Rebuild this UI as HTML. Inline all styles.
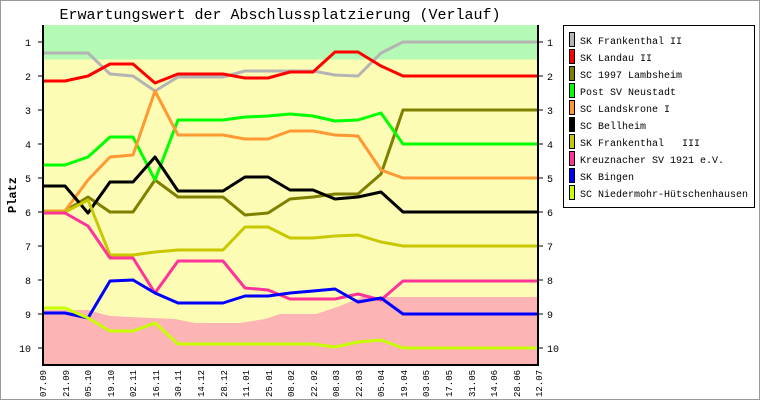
<!DOCTYPE html>
<html><head><meta charset="utf-8"><style>
body{margin:0;background:#fff;}
svg text{font-family:"Liberation Mono",monospace;}
</style></head><body>
<svg width="760" height="400" xmlns="http://www.w3.org/2000/svg">
<rect x="0.5" y="0.5" width="759" height="399" fill="#fff" stroke="#999"/>
<text x="280" y="19" font-size="15" text-anchor="middle">Erwartungswert der Abschlussplatzierung (Verlauf)</text>
<rect x="43" y="25" width="495" height="34.5" fill="#b4fab4"/>
<rect x="43" y="59.5" width="495" height="306" fill="#fcfcb4"/>
<polygon fill="#fcb4b4" points="43,310 88,310 110,316 130,317 175,319 195,323 240,323 265,319 280,314 316,314 340,306 362,297 538,297 538,365 43,365"/>
<g fill="none" stroke-width="3" stroke-linejoin="round">
<polyline stroke="#b4b4b4" points="43,53 88,53 110,74 133,76 155,91 178,77 223,77 245,71 313,71 335,75 358,76 381,53 403,42 538,42"/>
<polyline stroke="#ff0000" points="43,81 65,81 88,76 110,64 133,64 155,83 178,74 223,74 245,78 268,78 290,72 313,72 335,52 358,52 381,66 403,76 538,76"/>
<polyline stroke="#808000" points="43,211 65,211 88,197 110,212 133,212 155,180 178,197 223,197 245,215 268,213 290,199 313,197 335,194 358,194 381,174 403,110 538,110"/>
<polyline stroke="#00ff00" points="43,165 65,165 88,157 110,137 133,137 155,180 178,120 223,120 245,117 268,116 290,114 313,116 335,121 358,120 381,113 403,144 538,144"/>
<polyline stroke="#ff9933" points="43,211 65,211 88,180 110,157 133,155 155,91 178,135 223,135 245,139 268,139 290,131 313,131 335,135 358,136 381,170 403,178 538,178"/>
<polyline stroke="#000000" points="43,186 65,186 88,213 110,182 133,182 155,157 178,191 223,191 245,177 268,177 290,190 313,190 335,199 358,197 381,192 403,212 538,212"/>
<polyline stroke="#c8c800" points="43,212 65,212 88,200 110,255 133,255 155,252 178,250 223,250 245,227 268,227 290,238 313,238 335,236 358,235 381,242 403,246 538,246"/>
<polyline stroke="#ff3399" points="43,213 65,213 88,226 110,258 133,258 155,293 178,261 223,261 245,288 268,290 290,299 335,299 358,294 381,300 403,281 538,281"/>
<polyline stroke="#0000ff" points="43,313 65,313 88,318 110,281 133,280 155,293 178,303 223,303 245,296 268,296 290,293 313,291 335,289 358,302 381,298 403,314 538,314"/>
<polyline stroke="#c8ff00" points="43,308 65,308 88,318 110,331 133,331 155,323 178,344 290,344 313,344 335,347 358,342 381,340 403,348 538,348"/>
</g>
<g stroke="#000" stroke-width="2">
<line x1="43" y1="25" x2="43" y2="366"/><line x1="538" y1="25" x2="538" y2="366"/><line x1="42" y1="365" x2="539" y2="365"/>
</g>
<g stroke="#000" stroke-width="1">
<line x1="38" y1="42" x2="43" y2="42"/><line x1="38" y1="76" x2="43" y2="76"/><line x1="38" y1="110" x2="43" y2="110"/><line x1="38" y1="144" x2="43" y2="144"/><line x1="38" y1="178" x2="43" y2="178"/><line x1="38" y1="212" x2="43" y2="212"/><line x1="38" y1="246" x2="43" y2="246"/><line x1="38" y1="280" x2="43" y2="280"/><line x1="38" y1="314" x2="43" y2="314"/><line x1="38" y1="348" x2="43" y2="348"/>
<line x1="538" y1="42" x2="543" y2="42"/><line x1="538" y1="76" x2="543" y2="76"/><line x1="538" y1="110" x2="543" y2="110"/><line x1="538" y1="144" x2="543" y2="144"/><line x1="538" y1="178" x2="543" y2="178"/><line x1="538" y1="212" x2="543" y2="212"/><line x1="538" y1="246" x2="543" y2="246"/><line x1="538" y1="280" x2="543" y2="280"/><line x1="538" y1="314" x2="543" y2="314"/><line x1="538" y1="348" x2="543" y2="348"/>
</g>
<g font-size="10">
<text x="31" y="46" text-anchor="end">1</text><text x="31" y="80" text-anchor="end">2</text><text x="31" y="114" text-anchor="end">3</text><text x="31" y="148" text-anchor="end">4</text><text x="31" y="182" text-anchor="end">5</text><text x="31" y="216" text-anchor="end">6</text><text x="31" y="250" text-anchor="end">7</text><text x="31" y="284" text-anchor="end">8</text><text x="31" y="318" text-anchor="end">9</text><text x="31" y="352" text-anchor="end">10</text>
<text x="547" y="46">1</text><text x="547" y="80">2</text><text x="547" y="114">3</text><text x="547" y="148">4</text><text x="547" y="182">5</text><text x="547" y="216">6</text><text x="547" y="250">7</text><text x="547" y="284">8</text><text x="547" y="318">9</text><text x="547" y="352">10</text>
</g>
<text transform="translate(16,195) rotate(-90)" font-size="12" font-weight="bold" text-anchor="middle">Platz</text>
<g font-size="9">
<text transform="translate(46,397) rotate(-90)">07.09</text>
<text transform="translate(69,397) rotate(-90)">21.09</text>
<text transform="translate(91,397) rotate(-90)">05.10</text>
<text transform="translate(114,397) rotate(-90)">19.10</text>
<text transform="translate(136,397) rotate(-90)">02.11</text>
<text transform="translate(159,397) rotate(-90)">16.11</text>
<text transform="translate(181,397) rotate(-90)">30.11</text>
<text transform="translate(204,397) rotate(-90)">14.12</text>
<text transform="translate(227,397) rotate(-90)">28.12</text>
<text transform="translate(249,397) rotate(-90)">11.01</text>
<text transform="translate(272,397) rotate(-90)">25.01</text>
<text transform="translate(294,397) rotate(-90)">08.02</text>
<text transform="translate(317,397) rotate(-90)">22.02</text>
<text transform="translate(339,397) rotate(-90)">08.03</text>
<text transform="translate(362,397) rotate(-90)">22.03</text>
<text transform="translate(384,397) rotate(-90)">05.04</text>
<text transform="translate(407,397) rotate(-90)">19.04</text>
<text transform="translate(429,397) rotate(-90)">03.05</text>
<text transform="translate(452,397) rotate(-90)">17.05</text>
<text transform="translate(475,397) rotate(-90)">31.05</text>
<text transform="translate(497,397) rotate(-90)">14.06</text>
<text transform="translate(520,397) rotate(-90)">28.06</text>
<text transform="translate(542,397) rotate(-90)">12.07</text>
</g>
<rect x="563.5" y="25.5" width="191" height="182" fill="#fff" stroke="#000"/>
<g stroke="#000" stroke-width="1">
<rect x="569.5" y="32.5" width="5" height="14" fill="#b4b4b4"/>
<rect x="569.5" y="49.5" width="5" height="14" fill="#ff0000"/>
<rect x="569.5" y="66.5" width="5" height="14" fill="#808000"/>
<rect x="569.5" y="83.5" width="5" height="14" fill="#00ff00"/>
<rect x="569.5" y="100.5" width="5" height="14" fill="#ff9933"/>
<rect x="569.5" y="117.5" width="5" height="14" fill="#000000"/>
<rect x="569.5" y="134.5" width="5" height="14" fill="#c8c800"/>
<rect x="569.5" y="151.5" width="5" height="14" fill="#ff3399"/>
<rect x="569.5" y="168.5" width="5" height="14" fill="#0000ff"/>
<rect x="569.5" y="185.5" width="5" height="14" fill="#c8ff00"/>
</g>
<g font-size="10">
<text x="580" y="44">SK Frankenthal II</text>
<text x="580" y="61">SK Landau II</text>
<text x="580" y="78">SC 1997 Lambsheim</text>
<text x="580" y="95">Post SV Neustadt</text>
<text x="580" y="112">SC Landskrone I</text>
<text x="580" y="129">SC Bellheim</text>
<text x="580" y="146" xml:space="preserve">SK Frankenthal   III</text>
<text x="580" y="163">Kreuznacher SV 1921 e.V.</text>
<text x="580" y="180">SK Bingen</text>
<text x="580" y="197">SC Niedermohr-Hütschenhausen</text>
</g>
</svg>
</body></html>
